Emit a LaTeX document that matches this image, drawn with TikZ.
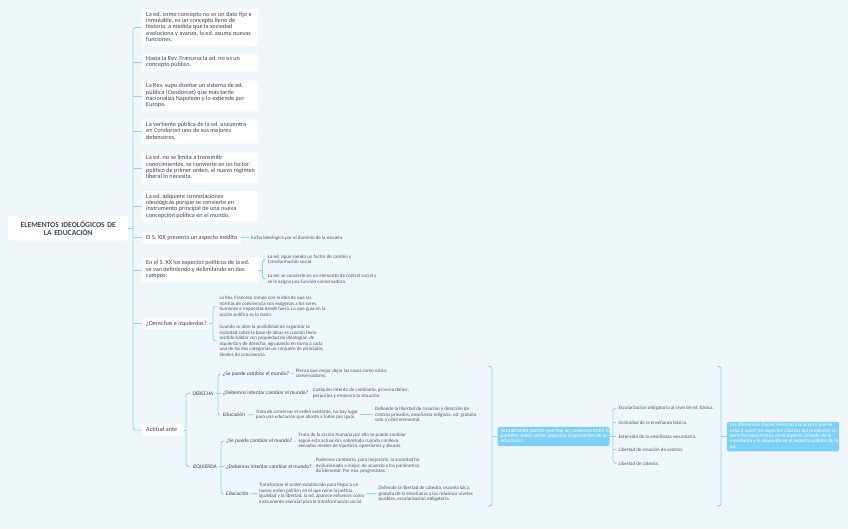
\documentclass[tikz,border=0pt]{standalone}
\usepackage{fontspec}
\setmainfont{Carlito}
\definecolor{bg}{HTML}{F0F7FA}
\definecolor{lin}{HTML}{86D5F7}
\definecolor{bluebox}{HTML}{7DD1F6}
\definecolor{txt}{HTML}{3A4759}
\definecolor{txtb}{HTML}{4F5966}
\newcommand{\bxt}[2]{\makebox[#1][l]{\begin{tabular}{@{}l@{}}#2\end{tabular}}}
\tikzset{
  box/.style={fill=white, rounded corners=2pt, anchor=west, inner xsep=4.3pt, inner ysep=2.6pt, text=txt, font=\fontsize{6.25}{6.3}\selectfont},
  boxb/.style={box, font=\fontsize{6.2}{6.5}\selectfont},
  rootbox/.style={fill=white, rounded corners=2pt, anchor=west, align=center, text width=112pt, inner xsep=4pt, minimum height=24.7pt, text=txt, font=\bfseries\fontsize{7.6}{7.9}\selectfont},
  lvl/.style={anchor=west, inner xsep=2pt, inner ysep=0.8pt, text=txt, font=\fontsize{5.4}{6}\selectfont},
  leaf/.style={anchor=west, inner xsep=2pt, inner ysep=0.8pt, align=left, text=txtb, font=\fontsize{5.0}{5.5}\selectfont},
  bluenode/.style={fill=bluebox, rounded corners=1.5pt, anchor=west, align=left, inner xsep=3pt, inner ysep=1.5pt, text=white, font=\fontsize{5.4}{5.3}\selectfont},
  con/.style={draw=lin, line width=0.9pt, rounded corners=2.5pt}
}
\begin{document}
\frenchspacing
\begin{tikzpicture}[x=1pt,y=-1pt]
\useasboundingbox[fill=bg] (0,0) rectangle (848,529);

% root
\node[rootbox] (root) at (8,228.3) {ELEMENTOS IDEOLÓGICOS DE\\LA EDUCACIÓN};

% level 1 boxes
\node[box] (b1) at (141.7,27.5) {\bxt{107.4pt}{La ed. como concepto no es un dato fijo e\\ inmutable, es un concepto lleno de\\ historia, a medida que la sociedad\\ evoluciona y avanza, la ed. asume nuevas\\ funciones.}};
\node[box] (b2) at (141.7,62.3) {\bxt{107.4pt}{Hasta la Rev. Francesa la ed. no es un\\ concepto público.}};
\node[box] (b3) at (141.7,96.2) {\bxt{107.4pt}{La Rev. supo diseñar un sistema de ed.\\ pública (Condorcet) que más tarde\\ nacionaliza Napoleón y lo extiende por\\ Europa.}};
\node[box] (b4) at (141.7,131.5) {\bxt{107.4pt}{La vertiente pública de la ed. encuentra\\ en Condorcet uno de sus mejores\\ defensores.}};
\node[box] (b5) at (141.7,168) {\bxt{107.4pt}{La ed. no se limita a transmitir\\ conocimientos, se convierte en un factor\\ político de primer orden, el nuevo régimen\\ liberal lo necesita.}};
\node[box] (b6) at (141.7,206.3) {\bxt{107.4pt}{La ed. adquiere connotaciones\\ ideológicas porque se convierte en\\ instrumento principal de una nueva\\ concepción política en el mundo.}};
\node[boxb] (b7) at (141.7,237.8) {\bxt{90.7pt}{El S. XIX presenta un aspecto inédito}};
\node[boxb] (b8) at (141.7,270) {\bxt{108pt}{En el S. XX los aspectos políticos de la ed.\\ se van definiendo y delimitando en dos\\ campos:}};
\node[boxb] (b9) at (141.7,323.8) {\bxt{58.7pt}{¿Derechas e izquierdas?}};
\node[boxb] (b10) at (141.7,430) {\bxt{33pt}{Actitud ante}};

% trunk
\coordinate (t0) at (133,228.3);
\draw[con] (root.east) -- (root.east -| t0);
\draw[con] (b1.west) -| (t0) |- (b10.west);
\foreach \i in {2,...,9} { \draw[con] (b\i.west -| t0) -- (b\i.west); }

% b7 leaf
\node[leaf] (l7) at (249,237.8) {lucha ideológica por el dominio de la escuela.};
\draw[con] (b7.east) -- (l7.west);

% b8 leaves
\coordinate (t8) at (262.5,270);
\node[leaf] (l8a) at (265.7,259.5) {La ed. sigue siendo un factor de cambio y\\ transformación social.};
\node[leaf] (l8b) at (265.7,279) {La ed. se convierte en un elemento de control social y\\ se le asigna una función conservadora.};
\draw[con] (b8.east) -- (t8);
\draw[con] (l8a.west) -| (t8) |- (l8b.west);

% b9 leaves
\coordinate (t9) at (213,323.8);
\node[leaf] (l9a) at (217.3,306.7) {La Rev. Francesa rompe con la idea de que las\\ normas de convivencia son exógenas a los seres\\ humanos e impuestas desde fuera. Lo que guía en la\\ acción política es la razón.};
\node[leaf] (l9b) at (217.3,341) {Cuando se abre la posibilidad de organizar la\\ sociedad sobre la base de ideas es cuando tiene\\ sentido hablar con propiedad de ideologías, de\\ izquierda y de derecha, agrupando en torno a cada\\ una de las dos categorías un conjunto de principios\\ ideales de convivencia.};
\draw[con] (b9.east) -- (t9);
\draw[con] (l9a.west) -| (t9) |- (l9b.west);

% b10 : DERECHA / IZQUIERDA
\coordinate (t10) at (186,430);
\node[lvl] (der) at (190.3,393.3) {DERECHA};
\node[lvl] (izq) at (190.3,466.7) {IZQUIERDA};
\draw[con] (b10.east) -- (t10);
\draw[con] (der.west) -| (t10) |- (izq.west);

% DERECHA children
\coordinate (td) at (218,393.3);
\node[lvl] (dq1) at (220.7,374) {¿Se puede cambiar el mundo?};
\node[lvl] (dq2) at (220.7,393.3) {¿Debemos intentar cambiar el mundo?};
\node[lvl] (dq3) at (220.7,415) {Educación};
\draw[con] (der.east) -- (td);
\draw[con] (dq1.west) -| (td) |- (dq3.west);
\draw[con] (td) -- (dq2.west);

\node[leaf] (dl1) at (293.7,373.5) {Piensa que mejor dejar las cosas como están,\\ conservadores.};
\node[leaf] (dl2) at (310.7,393) {Cualquier intento de cambiarlo, provoca daños,\\ perjuicios y empeora la situación.};
\node[leaf] (dl3) at (253.7,414.5) {Trata de conservar el orden existente, no hay lugar\\ para una educación que abaste a todos por igual.};
\node[leaf] (dl4) at (373,414.5) {Defiende la libertad de creación y dirección de\\ centros privados, enseñanza religiosa, ed. gratuita\\ solo a nivel elemental.};
\draw[con] (dq1.east) -- (dl1.west);
\draw[con] (dq2.east) -- (dl2.west);
\draw[con] (dq3.east) -- (dl3.west);
\draw[con] (dl3.east) -- (dl4.west);

% IZQUIERDA children
\coordinate (ti) at (221,466.7);
\node[lvl] (iq1) at (224,441) {¿Se puede cambiar el mundo?};
\node[lvl] (iq2) at (224,466.7) {¿Debemos intentar cambiar el mundo?};
\node[lvl] (iq3) at (224,494) {Educación};
\draw[con] (izq.east) -- (ti);
\draw[con] (iq1.west) -| (ti) |- (iq3.west);
\draw[con] (ti) -- (iq2.west);

\node[leaf] (il1) at (296.3,441) {Fruto de la acción humana por ello se puede cambiar\\ según esta actuación, sobretodo cuando conlleva\\ elevados niveles de injusticia, opresiones y abusos.};
\node[leaf] (il2) at (313.7,466) {Podemos cambiarlo, para mejorarlo, la sociedad ha\\ evolucionado a mejor, de acuerdo a los parámetros\\ de bienestar. Por eso, progresistas.};
\node[leaf] (il3) at (257,493.5) {Transformar el orden establecido para llegar a un\\ nuevo orden político en el que reine la justicia,\\ igualdad y la libertad. la ed. aparece entonces como\\ instrumento esencial para la transformación social.};
\node[leaf] (il4) at (376.3,493.7) {Defiende la libertad de cátedra, escuela laica,\\ gratuita de la enseñanza a los máximos niveles\\ posibles, escolarización obligatoria.};
\draw[con] (iq1.east) -- (il1.west);
\draw[con] (iq2.east) -- (il2.west);
\draw[con] (iq3.east) -- (il3.west);
\draw[con] (il3.east) -- (il4.west);

% brace 1 and consensus box
\coordinate (k1) at (492,436.5);
\draw[con] (488,366.5) -- (492,366.5) -- (k1) -- (492,506) -- (488,506);
\node[bluenode] (act) at (497.3,436.5) {\bxt{106pt}{Actualmente parece que hay un consenso entre los\\ partidos sobre varios aspectos importantes de la\\ educación}};
\draw[con] (k1) -- (act.west);

% list
\coordinate (tb) at (613,436.5);
\node[leaf] (r1) at (616.3,408.3) {Escolarización obligatoria al nivel de ed. básica.};
\node[leaf] (r2) at (616.3,422.3) {Gratuidad de la enseñanza básica.};
\node[leaf] (r3) at (616.3,436.3) {Extensión de la enseñanza secundaria.};
\node[leaf] (r4) at (616.3,449.7) {Libertad de creación de centros.};
\node[leaf] (r5) at (616.3,463.3) {Libertad de cátedra.};
\draw[con] (act.east) -- (tb);
\draw[con] (r1.west) -| (tb) |- (r5.west);
\draw[con] (r2.west -| tb) -- (r2.west);
\draw[con] (r3.west -| tb) -- (r3.west);
\draw[con] (r4.west -| tb) -- (r4.west);

% brace 2 and differences box
\coordinate (k2) at (721,436.5);
\draw[con] (717,366.5) -- (721,366.5) -- (k2) -- (721,506) -- (717,506);
\node[bluenode, font=\fontsize{5.2}{5.3}\selectfont] (dif) at (726.7,436.5) {\bxt{106.3pt}{Las diferencias hacen referencia al acento que se\\ coloca sobre los aspectos clásicos del problema: la\\ derecha hace énfasis en el aspecto privado de la\\ enseñanza y la izquierda en el aspecto público de la\\ ed.}};
\draw[con] (k2) -- (dif.west);
\end{tikzpicture}
\end{document}
